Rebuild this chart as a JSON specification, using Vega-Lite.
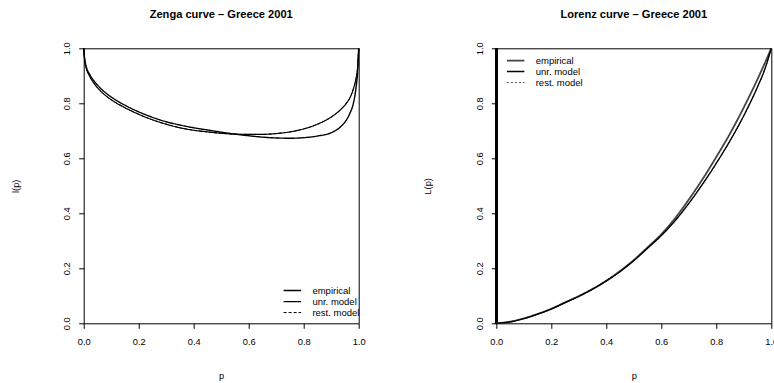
{
  "$schema": "https://vega.github.io/schema/vega-lite/v6.json",
  "autosize": {"type": "none"},
  "padding": {"left": 83.7, "top": 48.3, "right": 690.3, "bottom": 334.7},
  "background": "white",
  "bounds": "flush",
  "spacing": 137.6,
  "config": {
    "font": "Liberation Sans",
    "view": {"stroke": "black", "strokeWidth": 1},
    "axis": {
      "grid": false, "domain": false, "tickColor": "black", "tickSize": 5, "tickWidth": 1,
      "labelColor": "black", "labelFontSize": 9.3, "labelFont": "Liberation Sans",
      "titleFont": "Liberation Sans", "titleFontSize": 9.3, "titleFontWeight": "normal", "titleColor": "black",
      "labelFlush": false, "labelOverlap": false
    },
    "axisX": {"labelAngle": 0, "labelBaseline": "top", "labelPadding": 9.3, "titleBaseline": "alphabetic", "titleAlign": "center", "titleX": 137.5, "titleY": 54.7},
    "axisY": {"labelAngle": 270, "labelAlign": "center", "labelBaseline": "alphabetic", "labelPadding": 9, "titleAngle": 270, "titleBaseline": "alphabetic", "titleAlign": "center", "titleX": -65.5, "titleY": 137.5},
    "legend": {
      "orient": "none", "padding": 0, "rowPadding": 0, "labelFontSize": 9.5, "labelColor": "black",
      "labelFont": "Liberation Sans", "symbolType": "M-4,0H4", "symbolSize": 19.1, "labelOffset": 15.3, "title": null
    },
    "title": {"fontSize": 11.1, "fontWeight": "bold", "color": "black", "font": "Liberation Sans", "anchor": "middle", "frame": "group", "baseline": "alphabetic", "offset": 22}
  },
  "datasets": {
    "zenga": [
      {"p": 0, "v": 1, "s": "empirical"}, {"p": 0.002, "v": 0.975, "s": "empirical"}, {"p": 0.005, "v": 0.952, "s": "empirical"},
      {"p": 0.01, "v": 0.93, "s": "empirical"}, {"p": 0.02, "v": 0.908, "s": "empirical"}, {"p": 0.04, "v": 0.878, "s": "empirical"},
      {"p": 0.06, "v": 0.856, "s": "empirical"}, {"p": 0.08, "v": 0.838, "s": "empirical"}, {"p": 0.1, "v": 0.823, "s": "empirical"},
      {"p": 0.15, "v": 0.793, "s": "empirical"}, {"p": 0.2, "v": 0.769, "s": "empirical"}, {"p": 0.25, "v": 0.749, "s": "empirical"},
      {"p": 0.3, "v": 0.733, "s": "empirical"}, {"p": 0.35, "v": 0.721, "s": "empirical"}, {"p": 0.4, "v": 0.711, "s": "empirical"},
      {"p": 0.45, "v": 0.703, "s": "empirical"}, {"p": 0.5, "v": 0.695, "s": "empirical"}, {"p": 0.55, "v": 0.688, "s": "empirical"},
      {"p": 0.6, "v": 0.682, "s": "empirical"}, {"p": 0.65, "v": 0.677, "s": "empirical"}, {"p": 0.7, "v": 0.674, "s": "empirical"},
      {"p": 0.75, "v": 0.673, "s": "empirical"}, {"p": 0.8, "v": 0.675, "s": "empirical"}, {"p": 0.85, "v": 0.681, "s": "empirical"},
      {"p": 0.9, "v": 0.693, "s": "empirical"}, {"p": 0.93, "v": 0.711, "s": "empirical"}, {"p": 0.955, "v": 0.739, "s": "empirical"},
      {"p": 0.97, "v": 0.768, "s": "empirical"}, {"p": 0.98, "v": 0.797, "s": "empirical"}, {"p": 0.99, "v": 0.855, "s": "empirical"},
      {"p": 0.996, "v": 0.915, "s": "empirical"}, {"p": 1, "v": 1, "s": "empirical"},
      {"p": 0, "v": 1, "s": "unr. model"}, {"p": 0.002, "v": 0.972, "s": "unr. model"}, {"p": 0.005, "v": 0.948, "s": "unr. model"},
      {"p": 0.01, "v": 0.925, "s": "unr. model"}, {"p": 0.02, "v": 0.902, "s": "unr. model"}, {"p": 0.04, "v": 0.869, "s": "unr. model"},
      {"p": 0.06, "v": 0.846, "s": "unr. model"}, {"p": 0.08, "v": 0.828, "s": "unr. model"}, {"p": 0.1, "v": 0.813, "s": "unr. model"},
      {"p": 0.15, "v": 0.784, "s": "unr. model"}, {"p": 0.2, "v": 0.76, "s": "unr. model"}, {"p": 0.25, "v": 0.74, "s": "unr. model"},
      {"p": 0.3, "v": 0.724, "s": "unr. model"}, {"p": 0.35, "v": 0.711, "s": "unr. model"}, {"p": 0.4, "v": 0.702, "s": "unr. model"},
      {"p": 0.45, "v": 0.696, "s": "unr. model"}, {"p": 0.5, "v": 0.691, "s": "unr. model"}, {"p": 0.55, "v": 0.688, "s": "unr. model"},
      {"p": 0.6, "v": 0.687, "s": "unr. model"}, {"p": 0.65, "v": 0.687, "s": "unr. model"}, {"p": 0.7, "v": 0.69, "s": "unr. model"},
      {"p": 0.75, "v": 0.696, "s": "unr. model"}, {"p": 0.8, "v": 0.707, "s": "unr. model"}, {"p": 0.85, "v": 0.724, "s": "unr. model"},
      {"p": 0.9, "v": 0.75, "s": "unr. model"}, {"p": 0.93, "v": 0.773, "s": "unr. model"}, {"p": 0.955, "v": 0.8, "s": "unr. model"},
      {"p": 0.97, "v": 0.824, "s": "unr. model"}, {"p": 0.98, "v": 0.85, "s": "unr. model"}, {"p": 0.99, "v": 0.89, "s": "unr. model"},
      {"p": 0.996, "v": 0.93, "s": "unr. model"}, {"p": 1, "v": 1, "s": "unr. model"},
      {"p": 0, "v": 1, "s": "rest. model"}, {"p": 0.002, "v": 0.972, "s": "rest. model"}, {"p": 0.005, "v": 0.948, "s": "rest. model"},
      {"p": 0.01, "v": 0.925, "s": "rest. model"}, {"p": 0.02, "v": 0.902, "s": "rest. model"}, {"p": 0.04, "v": 0.869, "s": "rest. model"},
      {"p": 0.06, "v": 0.846, "s": "rest. model"}, {"p": 0.08, "v": 0.828, "s": "rest. model"}, {"p": 0.1, "v": 0.813, "s": "rest. model"},
      {"p": 0.15, "v": 0.784, "s": "rest. model"}, {"p": 0.2, "v": 0.76, "s": "rest. model"}, {"p": 0.25, "v": 0.74, "s": "rest. model"},
      {"p": 0.3, "v": 0.724, "s": "rest. model"}, {"p": 0.35, "v": 0.711, "s": "rest. model"}, {"p": 0.4, "v": 0.702, "s": "rest. model"},
      {"p": 0.45, "v": 0.696, "s": "rest. model"}, {"p": 0.5, "v": 0.691, "s": "rest. model"}, {"p": 0.55, "v": 0.688, "s": "rest. model"},
      {"p": 0.6, "v": 0.687, "s": "rest. model"}, {"p": 0.65, "v": 0.687, "s": "rest. model"}, {"p": 0.7, "v": 0.69, "s": "rest. model"},
      {"p": 0.75, "v": 0.696, "s": "rest. model"}, {"p": 0.8, "v": 0.707, "s": "rest. model"}, {"p": 0.85, "v": 0.724, "s": "rest. model"},
      {"p": 0.9, "v": 0.75, "s": "rest. model"}, {"p": 0.93, "v": 0.773, "s": "rest. model"}, {"p": 0.955, "v": 0.8, "s": "rest. model"},
      {"p": 0.97, "v": 0.824, "s": "rest. model"}, {"p": 0.98, "v": 0.85, "s": "rest. model"}, {"p": 0.99, "v": 0.89, "s": "rest. model"},
      {"p": 0.996, "v": 0.93, "s": "rest. model"}, {"p": 1, "v": 1, "s": "rest. model"}
    ],
    "lorenz": [
      {"p": 0, "v": 0, "s": "empirical"}, {"p": 0.05, "v": 0.006, "s": "empirical"}, {"p": 0.1, "v": 0.018, "s": "empirical"},
      {"p": 0.15, "v": 0.034, "s": "empirical"}, {"p": 0.2, "v": 0.053, "s": "empirical"}, {"p": 0.25, "v": 0.076, "s": "empirical"},
      {"p": 0.3, "v": 0.099, "s": "empirical"}, {"p": 0.35, "v": 0.125, "s": "empirical"}, {"p": 0.4, "v": 0.155, "s": "empirical"},
      {"p": 0.45, "v": 0.19, "s": "empirical"}, {"p": 0.5, "v": 0.23, "s": "empirical"}, {"p": 0.55, "v": 0.276, "s": "empirical"},
      {"p": 0.6, "v": 0.324, "s": "empirical"}, {"p": 0.65, "v": 0.382, "s": "empirical"}, {"p": 0.7, "v": 0.45, "s": "empirical"},
      {"p": 0.75, "v": 0.524, "s": "empirical"}, {"p": 0.8, "v": 0.605, "s": "empirical"}, {"p": 0.85, "v": 0.69, "s": "empirical"},
      {"p": 0.9, "v": 0.785, "s": "empirical"}, {"p": 0.95, "v": 0.888, "s": "empirical"}, {"p": 0.975, "v": 0.943, "s": "empirical"},
      {"p": 1, "v": 1, "s": "empirical"},
      {"p": 0, "v": 0, "s": "unr. model"}, {"p": 0.05, "v": 0.005, "s": "unr. model"}, {"p": 0.1, "v": 0.017, "s": "unr. model"},
      {"p": 0.15, "v": 0.033, "s": "unr. model"}, {"p": 0.2, "v": 0.052, "s": "unr. model"}, {"p": 0.25, "v": 0.075, "s": "unr. model"},
      {"p": 0.3, "v": 0.098, "s": "unr. model"}, {"p": 0.35, "v": 0.124, "s": "unr. model"}, {"p": 0.4, "v": 0.154, "s": "unr. model"},
      {"p": 0.45, "v": 0.188, "s": "unr. model"}, {"p": 0.5, "v": 0.228, "s": "unr. model"}, {"p": 0.55, "v": 0.273, "s": "unr. model"},
      {"p": 0.6, "v": 0.319, "s": "unr. model"}, {"p": 0.65, "v": 0.373, "s": "unr. model"}, {"p": 0.7, "v": 0.436, "s": "unr. model"},
      {"p": 0.75, "v": 0.506, "s": "unr. model"}, {"p": 0.8, "v": 0.582, "s": "unr. model"}, {"p": 0.85, "v": 0.664, "s": "unr. model"},
      {"p": 0.9, "v": 0.755, "s": "unr. model"}, {"p": 0.95, "v": 0.86, "s": "unr. model"}, {"p": 0.975, "v": 0.92, "s": "unr. model"},
      {"p": 1, "v": 1, "s": "unr. model"},
      {"p": 0, "v": 0, "s": "rest. model"}, {"p": 0.05, "v": 0.005, "s": "rest. model"}, {"p": 0.1, "v": 0.017, "s": "rest. model"},
      {"p": 0.15, "v": 0.033, "s": "rest. model"}, {"p": 0.2, "v": 0.052, "s": "rest. model"}, {"p": 0.25, "v": 0.075, "s": "rest. model"},
      {"p": 0.3, "v": 0.098, "s": "rest. model"}, {"p": 0.35, "v": 0.124, "s": "rest. model"}, {"p": 0.4, "v": 0.154, "s": "rest. model"},
      {"p": 0.45, "v": 0.188, "s": "rest. model"}, {"p": 0.5, "v": 0.228, "s": "rest. model"}, {"p": 0.55, "v": 0.273, "s": "rest. model"},
      {"p": 0.6, "v": 0.319, "s": "rest. model"}, {"p": 0.65, "v": 0.373, "s": "rest. model"}, {"p": 0.7, "v": 0.436, "s": "rest. model"},
      {"p": 0.75, "v": 0.506, "s": "rest. model"}, {"p": 0.8, "v": 0.582, "s": "rest. model"}, {"p": 0.85, "v": 0.664, "s": "rest. model"},
      {"p": 0.9, "v": 0.755, "s": "rest. model"}, {"p": 0.95, "v": 0.86, "s": "rest. model"}, {"p": 0.975, "v": 0.92, "s": "rest. model"},
      {"p": 1, "v": 1, "s": "rest. model"}
    ]
  },
  "resolve": {"scale": {"x": "independent", "y": "independent", "color": "independent", "strokeDash": "independent", "strokeWidth": "independent"}},
  "hconcat": [
    {
      "width": 275, "height": 275,
      "title": {"text": "Zenga curve – Greece 2001"},
      "data": {"name": "zenga"},
      "encoding": {
        "x": {"field": "p", "type": "quantitative", "scale": {"domain": [0, 1], "nice": false, "zero": false}, "axis": {"values": [0, 0.2, 0.4, 0.6, 0.8, 1], "format": ".1f", "title": "p"}},
        "y": {"field": "v", "type": "quantitative", "scale": {"domain": [0, 1], "nice": false, "zero": false}, "axis": {"values": [0, 0.2, 0.4, 0.6, 0.8, 1], "format": ".1f", "title": "l(p)"}},
        "color": {"field": "s", "type": "nominal", "scale": {"domain": ["empirical", "unr. model", "rest. model"], "range": ["black", "black", "black"]}, "legend": {"legendX": 203.9, "legendY": 237.5}},
        "strokeDash": {"field": "s", "type": "nominal", "scale": {"domain": ["empirical", "unr. model", "rest. model"], "range": [[1, 0], [1, 0], [3, 2]]}, "legend": {"legendX": 203.9, "legendY": 237.5}},
        "strokeWidth": {"field": "s", "type": "nominal", "scale": {"domain": ["empirical", "unr. model", "rest. model"], "range": [1.4, 1, 1]}, "legend": {"legendX": 203.9, "legendY": 237.5}}
      },
      "layer": [
        {"transform": [{"filter": "datum.s === 'rest. model'"}], "mark": {"type": "line", "interpolate": "monotone"}},
        {"transform": [{"filter": "datum.s !== 'rest. model'"}], "mark": {"type": "line", "interpolate": "monotone"}}
      ]
    },
    {
      "width": 275, "height": 275,
      "title": {"text": "Lorenz curve – Greece 2001"},
      "data": {"name": "lorenz"},
      "encoding": {
        "x": {"field": "p", "type": "quantitative", "scale": {"domain": [0, 1], "nice": false, "zero": false}, "axis": {"values": [0, 0.2, 0.4, 0.6, 0.8, 1], "format": ".1f", "title": "p"}},
        "y": {"field": "v", "type": "quantitative", "scale": {"domain": [0, 1], "nice": false, "zero": false}, "axis": {"values": [0, 0.2, 0.4, 0.6, 0.8, 1], "format": ".1f", "title": "L(p)"}}
      },
      "layer": [
        {"mark": {"type": "rule", "color": "black", "strokeWidth": 1.5}, "encoding": {"x": {"datum": 0}, "y": {"datum": 0}, "y2": {"datum": 1}}},
        {"transform": [{"filter": "datum.s === 'rest. model'"}], "mark": {"type": "line", "interpolate": "monotone"},
         "encoding": {
          "color": {"field": "s", "type": "nominal", "scale": {"domain": ["empirical", "unr. model", "rest. model"], "range": ["#444444", "black", "#555555"]}, "legend": {"legendX": 14.6, "legendY": 7.5}},
          "strokeDash": {"field": "s", "type": "nominal", "scale": {"domain": ["empirical", "unr. model", "rest. model"], "range": [[1, 0], [1, 0], [2, 2]]}, "legend": {"legendX": 14.6, "legendY": 7.5}},
          "strokeWidth": {"field": "s", "type": "nominal", "scale": {"domain": ["empirical", "unr. model", "rest. model"], "range": [1.8, 1, 1]}, "legend": {"legendX": 14.6, "legendY": 7.5}}
         }},
        {"transform": [{"filter": "datum.s !== 'rest. model'"}], "mark": {"type": "line", "interpolate": "monotone"},
         "encoding": {
          "color": {"field": "s", "type": "nominal", "scale": {"domain": ["empirical", "unr. model", "rest. model"], "range": ["#444444", "black", "#555555"]}, "legend": {"legendX": 14.6, "legendY": 7.5}},
          "strokeDash": {"field": "s", "type": "nominal", "scale": {"domain": ["empirical", "unr. model", "rest. model"], "range": [[1, 0], [1, 0], [2, 2]]}, "legend": {"legendX": 14.6, "legendY": 7.5}},
          "strokeWidth": {"field": "s", "type": "nominal", "scale": {"domain": ["empirical", "unr. model", "rest. model"], "range": [1.8, 1, 1]}, "legend": {"legendX": 14.6, "legendY": 7.5}}
         }}
      ]
    }
  ]
}
